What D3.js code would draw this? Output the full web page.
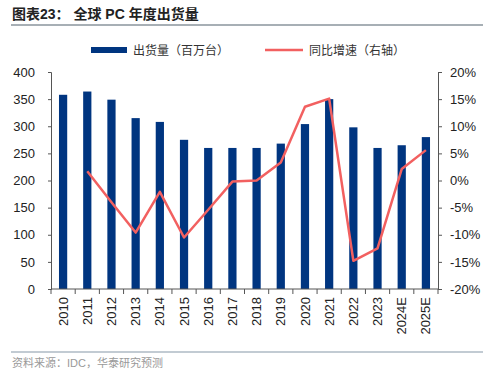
<!DOCTYPE html>
<html>
<head>
<meta charset="utf-8">
<script src="https://cdn.jsdelivr.net/npm/d3@7"></script>
<style>
  body { margin: 0; background: #fff; }
  svg { display: block; }
  text { font-family: "Liberation Sans", Arial, "Noto Sans CJK SC", sans-serif; }
  .cjk { font-family: "Liberation Sans", "Noto Sans CJK SC", sans-serif; }
</style>
</head>
<body>
<svg id="chart" width="500" height="377"></svg>
<script>
const years = ["2010", "2011", "2012", "2013", "2014", "2015", "2016", "2017",
  "2018", "2019", "2020", "2021", "2022", "2023", "2024E", "2025E"];
const shipments = [358, 364, 349, 315, 308, 275, 260, 260, 260, 268, 304, 350, 298, 260, 265, 280];
const growth = [null, 1.7, -4.0, -9.6, -2.1, -10.5, -5.4, -0.2, 0.0, 3.3, 13.6, 15.1, -14.8, -12.5, 2.1, 5.6];
const leftTicks = [0, 50, 100, 150, 200, 250, 300, 350, 400];
const rightTicks = [-20, -15, -10, -5, 0, 5, 10, 15, 20];

const svg = d3.select("#chart");
const margin = { left: 51, right: 62, top: 72, bottom: 88 };
const width = 500, height = 377;

const x = d3.scaleBand().domain(years).range([margin.left, width - margin.right]).paddingInner(0.66).paddingOuter(0.33);
const yL = d3.scaleLinear().domain([0, 400]).range([height - margin.bottom, margin.top]);
const yR = d3.scaleLinear().domain([-20, 20]).range([height - margin.bottom, margin.top]);

// title
svg.append("text").attr("class", "cjk").attr("x", 12).attr("y", 19)
  .attr("font-size", 14).attr("font-weight", "bold").attr("fill", "#222")
  .text("图表23：  全球 PC 年度出货量");
svg.append("line").attr("x1", 11).attr("x2", 483).attr("y1", 25).attr("y2", 25)
  .attr("stroke", "#8a949c").attr("stroke-width", 1.5);

// legend
svg.append("rect").attr("x", 91).attr("y", 47).attr("width", 36).attr("height", 6).attr("fill", "#003580");
svg.append("text").attr("class", "cjk").attr("x", 133).attr("y", 54.5).attr("font-size", 12).attr("fill", "#333")
  .text("出货量（百万台）");
svg.append("line").attr("x1", 265).attr("x2", 303).attr("y1", 50).attr("y2", 50)
  .attr("stroke", "#f26060").attr("stroke-width", 2.5);
svg.append("text").attr("class", "cjk").attr("x", 309).attr("y", 54.5).attr("font-size", 12).attr("fill", "#333")
  .text("同比增速（右轴）");

// bars
svg.append("g").selectAll("rect").data(years).join("rect")
  .attr("x", d => x(d))
  .attr("width", x.bandwidth())
  .attr("y", (d, i) => yL(shipments[i]))
  .attr("height", (d, i) => yL(0) - yL(shipments[i]))
  .attr("fill", "#003580");

// line
const line = d3.line()
  .defined(d => d.v !== null)
  .x(d => x(d.k) + x.bandwidth() / 2)
  .y(d => yR(d.v));
svg.append("path")
  .datum(years.map((k, i) => ({ k: k, v: growth[i] })))
  .attr("d", line)
  .attr("fill", "none")
  .attr("stroke", "#f26060")
  .attr("stroke-width", 2.5)
  .attr("stroke-linejoin", "round");

// axes
svg.append("g").attr("transform", `translate(${margin.left},0)`)
  .call(d3.axisLeft(yL).tickValues(leftTicks).tickSize(3).tickPadding(13));
svg.append("g").attr("transform", `translate(${width - margin.right},0)`)
  .call(d3.axisRight(yR).tickValues(rightTicks).tickSize(4).tickPadding(8).tickFormat(d => d + "%"));

const xAxis = svg.append("g").attr("transform", `translate(0,${yL(0)})`)
  .call(d3.axisBottom(x).tickSize(0).tickPadding(0));
xAxis.select(".domain").remove();
xAxis.selectAll("text")
  .attr("transform", "rotate(-90)")
  .attr("text-anchor", "end")
  .attr("dy", "0.35em")
  .attr("x", -8)
  .attr("y", 0);
// tick marks between categories
const step = x.step();
const bounds = d3.range(years.length + 1).map(i => margin.left + i * step);
svg.append("g").selectAll("line").data(bounds).join("line")
  .attr("x1", d => d).attr("x2", d => d)
  .attr("y1", yL(0)).attr("y2", yL(0) + 5)
  .attr("stroke", "#555");
svg.append("line").attr("x1", margin.left).attr("x2", width - margin.right)
  .attr("y1", yL(0)).attr("y2", yL(0)).attr("stroke", "#555");

svg.selectAll(".domain, .tick line").attr("stroke", "#555");
svg.selectAll(".tick text").attr("font-size", 13).attr("fill", "#222");

// footer
svg.append("line").attr("x1", 11).attr("x2", 483).attr("y1", 352).attr("y2", 352)
  .attr("stroke", "#aebac4").attr("stroke-width", 1.5);
svg.append("text").attr("class", "cjk").attr("x", 12).attr("y", 367).attr("font-size", 11).attr("fill", "#999")
  .text("资料来源：IDC，华泰研究预测");
</script>
</body>
</html>
